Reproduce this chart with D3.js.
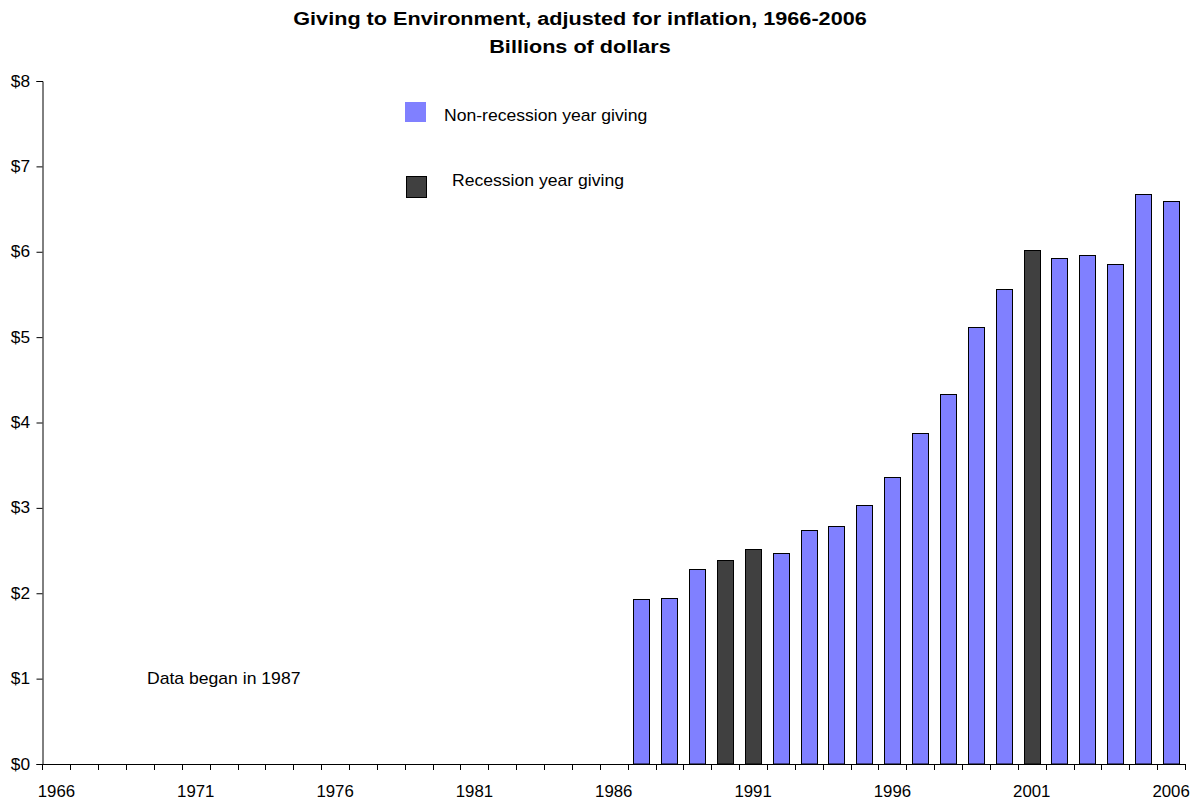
<!DOCTYPE html>
<html><head><meta charset="utf-8">
<script src="https://cdn.jsdelivr.net/npm/d3@7"></script>
<style>body{margin:0;background:#fff}svg{display:block}text{font-family:"Liberation Sans",Arial,sans-serif;fill:#000}</style>
</head><body><svg id="c" width="1202" height="803"></svg>
<script>
const years = d3.range(1966, 2007);
const dataYears = [1987,1988,1989,1990,1991,1992,1993,1994,1995,1996,1997,1998,1999,2000,2001,2002,2003,2004,2005,2006];
const values = [1.93,1.94,2.28,2.39,2.52,2.47,2.74,2.79,3.03,3.36,3.88,4.33,5.12,5.56,6.02,5.93,5.96,5.86,6.68,6.60];
const recessionYears = [1990,1991,2001];
const yTicks = [0,1,2,3,4,5,6,7,8];
const xLabelYears = [1966,1971,1976,1981,1986,1991,1996,2001,2006];
const titleLines = ["Giving to Environment, adjusted for inflation, 1966-2006","Billions of dollars"];
const legendLabels = ["Non-recession year giving","Recession year giving"];
const note = "Data began in 1987";

const colors = {normal:"#8080FF", recession:"#404040"};
const svg = d3.select("#c");
const L = 42.5, R = 1185, T = 81, B = 764;
const x = d3.scaleBand().domain(years).range([L, R]).paddingInner(0.41).paddingOuter(0.205);
const y = d3.scaleLinear().domain([0, 8]).range([B, T]);
const step = x.step();

function stext(g, tx, ty, str, anchor, size, weight, sx){
  return g.append("text").attr("transform", `translate(${tx},${ty}) scale(${sx},1)`)
    .attr("text-anchor", anchor).style("font-size", size+"px").style("font-weight", weight||"normal").text(str);
}

// title
titleLines.forEach((t,i)=> stext(svg, 580, 25 + i*28, t, "middle", 18.5, "bold", 1.17));

// bars
const data = dataYears.map((yr,i)=>({yr, v: values[i], rec: recessionYears.includes(yr)}));
svg.append("g").selectAll("rect").data(data).join("rect")
  .attr("x", d => Math.round(x(d.yr)) + 0.5)
  .attr("y", d => Math.round(y(d.v)) + 0.5)
  .attr("width", Math.round(x.bandwidth()))
  .attr("height", d => B - Math.round(y(d.v)) - 0.5)
  .attr("fill", d => d.rec ? colors.recession : colors.normal)
  .attr("stroke", "#000").attr("stroke-width", 1);

// y axis
const ya = svg.append("g").attr("transform", `translate(${L},0)`)
  .call(d3.axisLeft(y).tickValues(yTicks).tickSize(6).tickPadding(6).tickFormat(d => "$" + d));
ya.select(".domain").attr("stroke", "#000");
ya.selectAll(".tick line").attr("stroke", "#000");
ya.selectAll(".tick text").remove();
yTicks.forEach(v => stext(svg, 30, y(v) + 5.5, "$" + v, "end", 16, "normal", 1.08));

// x axis
const xg = svg.append("g");
xg.append("line").attr("x1", L).attr("x2", R).attr("y1", B + 0.5).attr("y2", B + 0.5).attr("stroke", "#000");
const bounds = years.map(yr => x(yr) - step * 0.205).concat([R]);
xg.selectAll("line.t").data(bounds).join("line").attr("class","t")
  .attr("x1", d => Math.round(d) + 0.5).attr("x2", d => Math.round(d) + 0.5)
  .attr("y1", B).attr("y2", B + 6).attr("stroke", "#000");
xLabelYears.forEach(yr => stext(svg, x(yr) + x.bandwidth()/2, 797, String(yr), "middle", 16, "normal", 1.05));

// legend
svg.append("rect").attr("x", 405).attr("y", 102).attr("width", 21).attr("height", 20).attr("fill", colors.normal);
stext(svg, 444, 121, legendLabels[0], "start", 16, "normal", 1.1);
svg.append("rect").attr("x", 406.5).attr("y", 176.5).attr("width", 20).attr("height", 21).attr("fill", colors.recession).attr("stroke", "#000");
stext(svg, 452, 186, legendLabels[1], "start", 16, "normal", 1.1);

// note
stext(svg, 147, 683.5, note, "start", 16, "normal", 1.1);
</script></body></html>
